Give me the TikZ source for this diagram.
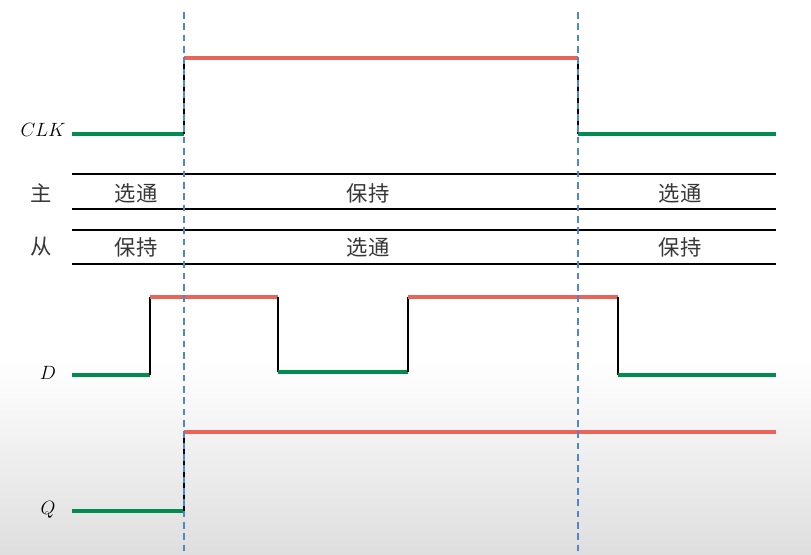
\documentclass[tikz,border=0pt]{standalone}
\usepackage{fontspec}
\newfontfamily\cjk{Noto Sans CJK SC}
\begin{document}
\begin{tikzpicture}[x=0.75pt,y=-0.75pt,
  lowline/.style={draw={rgb,255:red,0;green,140;blue,80},line width=3.2pt},
  highline/.style={draw={rgb,255:red,232;green,100;blue,88},line width=3.2pt},
  edge/.style={draw=black,line width=1.4pt},
  rule/.style={draw=black,line width=1.4pt},
  clockmark/.style={draw={rgb,255:red,80;green,135;blue,200},line width=1.4pt,dash pattern=on 5pt off 3.5pt},
  siglabel/.style={font=\fontsize{15}{16}\selectfont,anchor=center},
  cjklabel/.style={font=\cjk\fontsize{16}{17}\selectfont,text={rgb,255:red,55;green,55;blue,55},anchor=center}]
\useasboundingbox (0,0) rectangle (811,555);
\shade[top color=white,bottom color={rgb,255:red,222;green,222;blue,222}] (0,360) rectangle (811,555);
% dashed markers
\coordinate (m1t) at (184,12); \coordinate (m1b) at (184,555);
\coordinate (m2t) at (578,12); \coordinate (m2b) at (578,555);
% CLK
\node[siglabel] (clk) at (43,130) {$CLK$};
\coordinate (c0) at (72,134); \coordinate (c1) at (184,134); \coordinate (c2) at (184,58);
\coordinate (c3) at (578,58); \coordinate (c4) at (578,134); \coordinate (c5) at (776,134);
\draw[lowline] (c0) -- (c1);
\draw[edge] (c1) -- (c2);
\draw[highline] (c2) -- (c3);
\draw[edge] (c3) -- (c4);
\draw[lowline] (c4) -- (c5);
% table rules
\coordinate (r1a) at (72,174); \coordinate (r1b) at (776,174);
\coordinate (r2a) at (72,209); \coordinate (r2b) at (776,209);
\coordinate (r3a) at (72,230); \coordinate (r3b) at (776,230);
\coordinate (r4a) at (72,264); \coordinate (r4b) at (776,264);
\draw[rule] (r1a) -- (r1b);
\draw[rule] (r2a) -- (r2b);
\draw[rule] (r3a) -- (r3b);
\draw[rule] (r4a) -- (r4b);
\node[cjklabel] (zhu) at (41,193) {主};
\node[cjklabel] (cong) at (41,247) {从};
\node[cjklabel] (z1) at (136,193) {选通};
\node[cjklabel] (z2) at (368,193) {保持};
\node[cjklabel] (z3) at (680,193) {选通};
\node[cjklabel] (s1) at (136,247) {保持};
\node[cjklabel] (s2) at (368,247) {选通};
\node[cjklabel] (s3) at (680,247) {保持};
% D
\node[siglabel] (dl) at (48,373) {$D$};
\coordinate (d0) at (72,375); \coordinate (d1) at (150,375); \coordinate (d2) at (150,297);
\coordinate (d3) at (278,297); \coordinate (d4) at (278,372); \coordinate (d5) at (408,372);
\coordinate (d6) at (408,297); \coordinate (d7) at (618,297); \coordinate (d8) at (618,375);
\coordinate (d9) at (776,375);
\draw[lowline] (d0) -- (d1);
\draw[edge] (d1) -- (d2);
\draw[highline] (d2) -- (d3);
\draw[edge] (d3) -- (d4);
\draw[lowline] (d4) -- (d5);
\draw[edge] (d5) -- (d6);
\draw[highline] (d6) -- (d7);
\draw[edge] (d7) -- (d8);
\draw[lowline] (d8) -- (d9);
% Q
\node[siglabel] (ql) at (48,510) {$Q$};
\coordinate (q0) at (72,511); \coordinate (q1) at (184,511); \coordinate (q2) at (184,432);
\coordinate (q3) at (776,432);
\draw[lowline] (q0) -- (q1);
\draw[edge] (q1) -- (q2);
\draw[highline] (q2) -- (q3);
\draw[clockmark] (m1t) -- (m1b);
\draw[clockmark] (m2t) -- (m2b);
\end{tikzpicture}
\end{document}
